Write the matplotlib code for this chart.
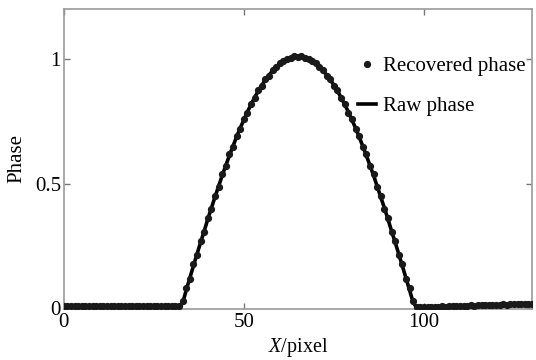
import matplotlib
matplotlib.use("Agg")
import matplotlib.pyplot as plt

plt.rcParams['font.family'] = ['Liberation Serif', 'DejaVu Serif']
plt.rcParams['mathtext.fontset'] = 'custom'
plt.rcParams['mathtext.rm'] = 'Liberation Serif'
plt.rcParams['mathtext.it'] = 'Liberation Serif:italic'

x_pixel = list(range(0, 131))

raw_phase = [
    0.008, 0.008, 0.008, 0.008, 0.008, 0.008, 0.008, 0.008, 0.008, 0.008,
    0.008, 0.008, 0.008, 0.008, 0.008, 0.008, 0.008, 0.008, 0.008, 0.008,
    0.008, 0.008, 0.008, 0.008, 0.008, 0.008, 0.008, 0.008, 0.008, 0.008,
    0.008, 0.008, 0.008,
    0.020, 0.073, 0.122, 0.170, 0.218, 0.265, 0.310, 0.358, 0.403, 0.447,
    0.490, 0.533, 0.573, 0.613, 0.651, 0.688, 0.723, 0.756, 0.788, 0.817,
    0.845, 0.871, 0.894, 0.916, 0.935, 0.953, 0.968, 0.981, 0.991, 0.999,
    1.005, 1.009, 1.010, 1.009, 1.005, 0.999, 0.991, 0.981, 0.968, 0.953,
    0.935, 0.916, 0.894, 0.871, 0.845, 0.817, 0.788, 0.756, 0.723, 0.688,
    0.651, 0.613, 0.573, 0.533, 0.490, 0.447, 0.403, 0.358, 0.310, 0.265,
    0.218, 0.170, 0.122, 0.073, 0.024, 0.002,
    0.003, 0.004, 0.004, 0.005, 0.005, 0.006, 0.006, 0.007, 0.007, 0.008,
    0.008, 0.009, 0.009, 0.010, 0.010, 0.011, 0.011, 0.011, 0.012, 0.012,
    0.013, 0.013, 0.013, 0.014, 0.014, 0.014, 0.015, 0.015, 0.015, 0.016,
    0.016, 0.016,
]

recovered_phase = [
    0.009, 0.007, 0.009, 0.008, 0.007, 0.009, 0.008, 0.009, 0.007, 0.008,
    0.009, 0.008, 0.007, 0.009, 0.008, 0.008, 0.009, 0.007, 0.008, 0.009,
    0.008, 0.007, 0.009, 0.008, 0.008, 0.009, 0.007, 0.008, 0.009, 0.008,
    0.007, 0.009, 0.008,
    0.030, 0.080, 0.118, 0.176, 0.212, 0.270, 0.305, 0.362, 0.398, 0.452,
    0.486, 0.538, 0.569, 0.618, 0.647, 0.692, 0.719, 0.760, 0.784, 0.821,
    0.842, 0.874, 0.891, 0.919, 0.933, 0.955, 0.966, 0.983, 0.990, 1.000,
    1.004, 1.010, 1.009, 1.010, 1.004, 1.000, 0.990, 0.983, 0.966, 0.955,
    0.933, 0.919, 0.891, 0.874, 0.842, 0.821, 0.784, 0.760, 0.719, 0.692,
    0.647, 0.618, 0.569, 0.538, 0.486, 0.452, 0.398, 0.362, 0.305, 0.270,
    0.212, 0.176, 0.118, 0.080, 0.030, 0.004,
    0.004, 0.003, 0.005, 0.004, 0.006, 0.005, 0.007, 0.006, 0.008, 0.007,
    0.009, 0.008, 0.010, 0.009, 0.011, 0.010, 0.012, 0.011, 0.013, 0.012,
    0.013, 0.014, 0.013, 0.015, 0.014, 0.015, 0.016, 0.015, 0.016, 0.017,
    0.016, 0.017,
]

x_ticks = [0, 50, 100]
y_ticks = [0, 0.5, 1]
y_tick_labels = ["0", "0.5", "1"]

fig = plt.figure(figsize=(5.36, 3.60), dpi=100)
ax = fig.add_axes([0.119, 0.1417, 0.8735, 0.8333])

ax.plot(x_pixel, raw_phase, color='black', linewidth=2.6, label='Raw phase', zorder=2)
ax.plot(x_pixel, recovered_phase, linestyle='none', marker='o', markersize=4.2,
        color='#1a1a1a', label='Recovered phase', zorder=3)

ax.set_xlim(0, 130)
ax.set_ylim(-0.003, 1.2)
ax.set_xticks(x_ticks)
ax.set_yticks(y_ticks)
ax.set_yticklabels(y_tick_labels)

for s in ax.spines.values():
    s.set_color('#9a9a9a')
    s.set_linewidth(1.2)

ax.tick_params(direction='in', length=4, width=1, color='#777777',
               top=True, right=True, labelsize=15, pad=2)
ax.tick_params(axis='x', pad=3)

ax.set_xlabel(r'$\it{X}$/pixel', fontsize=14.5, labelpad=3)
ax.set_ylabel('Phase', fontsize=15, labelpad=6)

handles, labels = ax.get_legend_handles_labels()
leg = ax.legend([handles[1], handles[0]], [labels[1], labels[0]],
                loc='upper left', bbox_to_anchor=(0.61, 0.87), frameon=False,
                fontsize=15, handlelength=0.9, handletextpad=0.3,
                labelspacing=1.0, borderaxespad=0)

fig.savefig('out.png', dpi=100)
